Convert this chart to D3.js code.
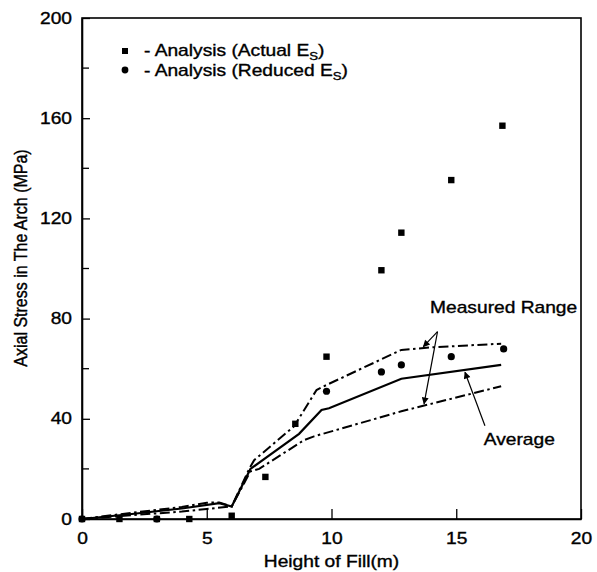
<!DOCTYPE html>
<html>
<head>
<meta charset="utf-8">
<script src="https://cdn.jsdelivr.net/npm/d3@7"></script>
<style>
  body { margin: 0; background: #fff; }
  svg { display: block; }
  text { font-family: "Liberation Sans", Arial, sans-serif; fill: #000; stroke: #000; stroke-width: 0.35; }
</style>
</head>
<body>
<div id="chart"></div>
<script>
// fill height (m) vs axial stress (MPa)
const actualEs = [[0, 0], [1.5, 0], [3, 0], [4.3, 0], [6, 1.3], [7.35, 16.8], [8.55, 38],
  [9.8, 64.8], [12, 99.3], [12.8, 114.3], [14.8, 135.3], [16.85, 157]];
const reducedEs = [[0, 0], [3, 0], [9.8, 51], [12, 58.7], [12.8, 61.5], [14.8, 64.8], [16.9, 67.9]];
const measuredUpper = [[0, 0], [2, 2.5], [4, 4.8], [5, 6.5], [5.5, 6.6], [6, 5], [6.7, 20], [6.9, 23.5],
  [8.5, 37], [9.4, 51.5], [9.8, 53.5], [12.8, 67.5], [14, 68.5], [16.8, 70]];
const measuredAvg = [[0, 0], [2, 2], [4, 4.2], [5.5, 6.3], [6, 5], [6.75, 20], [8.7, 34],
  [9.6, 43.5], [9.9, 44.2], [12.8, 56], [16.8, 61.5]];
const measuredLower = [[0, 0], [2, 1.5], [4, 3], [5, 4], [6, 5], [6.75, 19], [7.1, 20],
  [8.9, 31.5], [9.3, 33], [12.8, 43], [16.8, 53]];
const xTicks = [0, 5, 10, 15, 20];
const yTicks = [0, 40, 80, 120, 160, 200];
const yMinor = [20, 60, 100, 140, 180];

const W = 597, H = 572;
const margin = { top: 18, right: 16, bottom: 53, left: 82 };
const sx = 1.2; // scanned text is stretched horizontally

const svg = d3.select("#chart").append("svg")
    .attr("width", W)
    .attr("height", H);

const x = d3.scaleLinear().domain([0, 20]).range([margin.left, W - margin.right]);
const y = d3.scaleLinear().domain([0, 200]).range([H - margin.bottom, margin.top]);

// frame
svg.append("rect")
    .attr("x", x(0)).attr("y", y(200))
    .attr("width", x(20) - x(0)).attr("height", y(0) - y(200))
    .attr("fill", "none").attr("stroke", "#000").attr("stroke-width", 1.6);

const xAxis = svg.append("g")
    .attr("transform", `translate(0,${y(0)})`)
    .call(d3.axisBottom(x).tickValues(xTicks).tickSizeInner(-10).tickSizeOuter(0).tickPadding(14)
        .tickFormat(d3.format("d")));
xAxis.select(".domain").attr("stroke-width", 1.6);
xAxis.selectAll("text").attr("font-size", 16).attr("transform", `scale(${sx},1)`);
xAxis.selectAll(".tick line").attr("stroke-width", 1.3);

const yAxis = svg.append("g")
    .attr("transform", `translate(${x(0)},0)`)
    .call(d3.axisLeft(y).tickValues(yTicks).tickSizeInner(-8).tickSizeOuter(0).tickPadding(10));
yAxis.select(".domain").attr("stroke-width", 1.6);
yAxis.selectAll("text").attr("font-size", 16)
    .attr("x", -10 / sx).attr("transform", `scale(${sx},1)`);
yAxis.selectAll(".tick line").attr("stroke-width", 1.3);

svg.append("g").selectAll("line")
    .data(yMinor)
    .enter().append("line")
    .attr("x1", x(0)).attr("x2", x(0) + 7)
    .attr("y1", d => y(d)).attr("y2", d => y(d))
    .attr("stroke", "#000").attr("stroke-width", 1.3);

// axis titles
svg.append("text")
    .attr("transform", `translate(${(x(0) + x(20)) / 2},${H - 5}) scale(${sx},1)`)
    .attr("text-anchor", "middle")
    .attr("font-size", 16)
    .text("Height of Fill(m)");

svg.append("text")
    .attr("transform", `translate(27,258) rotate(-90) scale(1,${sx})`)
    .attr("text-anchor", "middle")
    .attr("font-size", 16)
    .text("Axial Stress in The Arch (MPa)");

// measured lines
const line = d3.line().x(d => x(d[0])).y(d => y(d[1]));
const dashDot = "10,3.5,2.5,3.5";

svg.append("path").datum(measuredUpper)
    .attr("d", line).attr("fill", "none").attr("stroke", "#000")
    .attr("stroke-width", 2).attr("stroke-dasharray", dashDot);
svg.append("path").datum(measuredLower)
    .attr("d", line).attr("fill", "none").attr("stroke", "#000")
    .attr("stroke-width", 2).attr("stroke-dasharray", dashDot);
svg.append("path").datum(measuredAvg)
    .attr("d", line).attr("fill", "none").attr("stroke", "#000")
    .attr("stroke-width", 2.2);

// analysis points
svg.append("g").selectAll("rect")
    .data(actualEs)
    .enter().append("rect")
    .attr("x", d => x(d[0]) - 3.2).attr("y", d => y(d[1]) - 3.2)
    .attr("width", 6.4).attr("height", 6.4)
    .attr("fill", "#000");

svg.append("g").selectAll("circle")
    .data(reducedEs)
    .enter().append("circle")
    .attr("cx", d => x(d[0])).attr("cy", d => y(d[1]))
    .attr("r", 3.6)
    .attr("fill", "#000");

// legend
const legend = svg.append("g");
legend.append("rect").attr("x", 122).attr("y", 48).attr("width", 6).attr("height", 6).attr("fill", "#000");
legend.append("circle").attr("cx", 125).attr("cy", 70).attr("r", 3.4).attr("fill", "#000");

const legendItems = [["- Analysis (Actual E", 56], ["- Analysis (Reduced E", 76]];
legendItems.forEach(([label, base]) => {
    const t = legend.append("text")
        .attr("transform", `translate(144,${base}) scale(${sx},1)`)
        .attr("font-size", 16);
    t.append("tspan").text(label);
    t.append("tspan").attr("font-size", 11).attr("dy", 4).text("S");
    t.append("tspan").attr("dy", -4).text(")");
});

// annotations
const defs = svg.append("defs");
defs.append("marker")
    .attr("id", "arrow")
    .attr("viewBox", "0 0 10 10")
    .attr("refX", 9).attr("refY", 5)
    .attr("markerWidth", 9).attr("markerHeight", 7)
    .attr("markerUnits", "userSpaceOnUse")
    .attr("orient", "auto")
    .append("path").attr("d", "M0,0 L10,5 L0,10 Z").attr("fill", "#000");

const annotations = [
    { text: "Measured Range", at: [13.95, 82.2] },
    { text: "Average", at: [16.1, 29.5] }
];
annotations.forEach(a => {
    svg.append("text")
        .attr("transform", `translate(${x(a.at[0])},${y(a.at[1])}) scale(${sx},1)`)
        .attr("font-size", 16)
        .text(a.text);
});

const arrows = [
    { from: [14.25, 74.8], to: [13.68, 68.8] },
    { from: [14.25, 74.8], to: [13.71, 46] },
    { from: [16.15, 37.2], to: [15.35, 58.6] }
];
svg.append("g").selectAll("line")
    .data(arrows)
    .enter().append("line")
    .attr("x1", d => x(d.from[0])).attr("y1", d => y(d.from[1]))
    .attr("x2", d => x(d.to[0])).attr("y2", d => y(d.to[1]))
    .attr("stroke", "#000").attr("stroke-width", 1.2)
    .attr("marker-end", "url(#arrow)");
</script>
</body>
</html>
